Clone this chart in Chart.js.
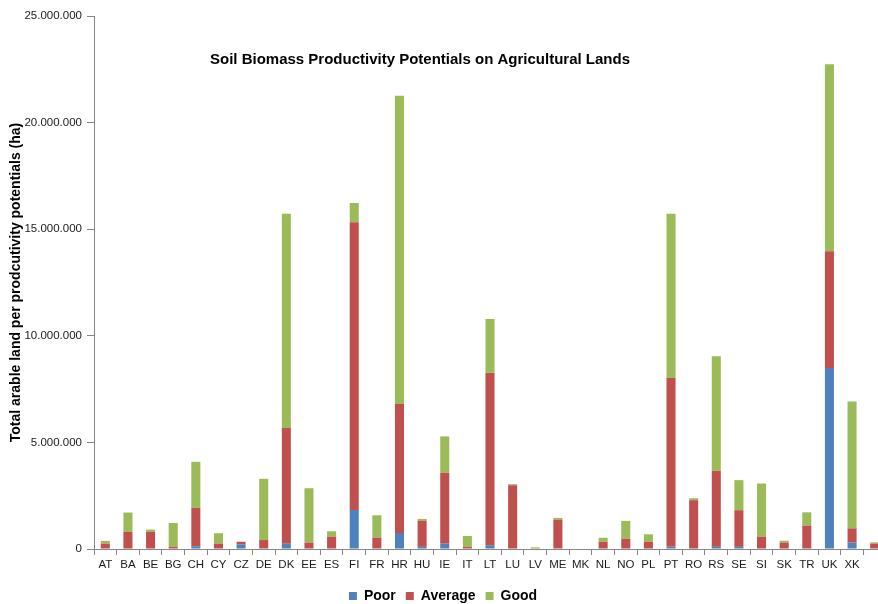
<!DOCTYPE html>
<html>
<head>
<meta charset="utf-8">
<script src="https://cdn.jsdelivr.net/npm/chart.js@4"></script>
<style>
  html, body { margin: 0; padding: 0; background: #fff; overflow: hidden; }
  #wrap { width: 890px; height: 604px; }
</style>
</head>
<body>
<div id="wrap"><canvas id="c"></canvas></div>
<script>
// Countries on the category axis
const countries = ['AT','BA','BE','BG','CH','CY','CZ','DE','DK','EE','ES','FI','FR','HR','HU','IE','IT','LT','LU','LV','ME','MK','NL','NO','PL','PT','RO','RS','SE','SI','SK','TR','UK','XK',''];

// Arable land (ha) by productivity potential class
const poor = [0,0,0,0,130000,0,220000,0,250000,0,0,1830000,0,750000,100000,250000,0,170000,0,0,0,0,0,0,0,100000,0,100000,100000,0,0,0,8490000,300000,0];
const average = [250000,800000,800000,100000,1800000,250000,120000,420000,5420000,300000,580000,13500000,530000,6050000,1220000,3320000,100000,8090000,2990000,30000,1380000,0,340000,480000,340000,7920000,2290000,3570000,1720000,580000,300000,1100000,5480000,670000,250000];
const good = [130000,910000,110000,1120000,2160000,490000,0,2870000,10060000,2550000,250000,900000,1050000,14460000,90000,1710000,510000,2530000,50000,50000,80000,0,190000,840000,350000,7710000,90000,5370000,1410000,2490000,90000,620000,8770000,5950000,60000];

const yTicks = [0, 5000000, 10000000, 15000000, 20000000, 25000000];

const chartTitle = 'Soil Biomass Productivity Potentials on Agricultural Lands';
const yTitle = 'Total arable land per prodcutivity potentials (ha)';

const fmt = v => v.toLocaleString('de-DE');

// Title drawn over the plot area
const overlayTitle = {
  id: 'overlayTitle',
  afterDraw(chart) {
    const ctx = chart.ctx;
    ctx.save();
    ctx.font = 'bold 15px "Liberation Sans", Arial, sans-serif';
    ctx.fillStyle = '#000';
    ctx.textAlign = 'center';
    ctx.textBaseline = 'middle';
    ctx.fillText(chartTitle, 420, 60);
    ctx.restore();
  }
};

Chart.defaults.font.family = '"Liberation Sans", Arial, sans-serif';

new Chart(document.getElementById('c'), {
  type: 'bar',
  data: {
    labels: countries,
    datasets: [
      { label: 'Poor', data: poor, backgroundColor: '#4F81BD' },
      { label: 'Average', data: average, backgroundColor: '#C0504D' },
      { label: 'Good', data: good, backgroundColor: '#9BBB59' }
    ]
  },
  options: {
    responsive: true,
    maintainAspectRatio: false,
    animation: false,
    layout: { padding: { top: 16, right: 4, left: 0, bottom: -9 } },
    datasets: { bar: { barPercentage: 0.4, categoryPercentage: 1.0 } },
    plugins: {
      legend: {
        position: 'bottom',
        labels: {
          boxWidth: 8, boxHeight: 8, padding: 10,
          color: '#000',
          font: { size: 14, weight: 'bold' }
        }
      },
      tooltip: { enabled: false },
      title: { display: false }
    },
    scales: {
      x: {
        stacked: true,
        grid: { drawOnChartArea: false, drawTicks: true, tickLength: 6, color: '#868686', offset: true },
        border: { color: '#868686', width: 1 },
        ticks: { color: '#1a1a1a', font: { size: 11.5 }, maxRotation: 0, autoSkip: false, padding: 3 },
        afterFit(scale) { scale.height = 30; }
      },
      y: {
        stacked: true,
        min: 0, max: 25000000,
        afterBuildTicks(scale) { scale.ticks = yTicks.map(v => ({ value: v })); },
        grid: { drawOnChartArea: false, drawTicks: true, tickLength: 7, color: '#868686' },
        border: { color: '#868686', width: 1 },
        ticks: { color: '#1a1a1a', font: { size: 11.5 }, padding: 5, callback: v => fmt(v) },
        title: { display: true, text: yTitle, color: '#000', font: { size: 14, weight: 'bold' }, padding: { top: 8, bottom: 0 } },
        afterFit(scale) { scale.width = 94; }
      }
    }
  },
  plugins: [overlayTitle]
});
</script>
</body>
</html>
